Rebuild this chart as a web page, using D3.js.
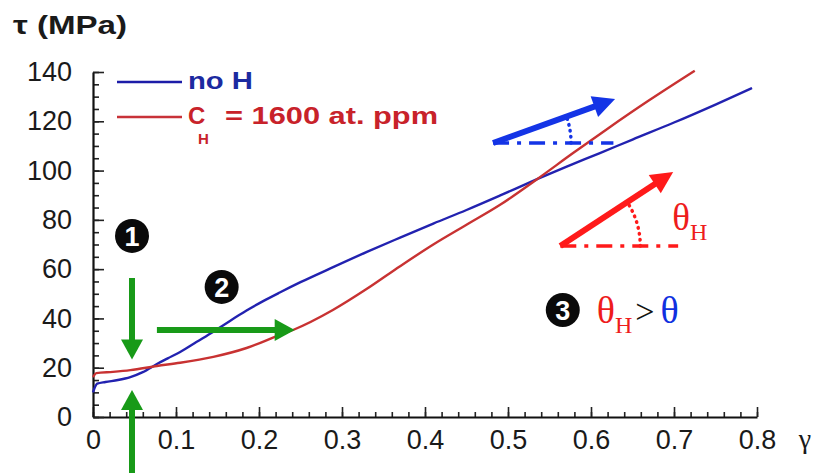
<!DOCTYPE html>
<meta charset="utf-8">
<script src="https://d3js.org/d3.v7.min.js"></script>
<style>
  body { margin: 0; background: #fff; }
  .tick text { font-family: "Liberation Sans", Arial, sans-serif; font-size: 27px; fill: #1a1a1a; }
</style>
<body>
<div id="chart"></div>
<script>
// strain values (gamma) and shear stress (MPa)
var gammaNoH = [0, 0.005, 0.015, 0.03, 0.045, 0.06, 0.077, 0.09, 0.105, 0.125, 0.145, 0.165, 0.185, 0.205,
                0.225, 0.25, 0.286, 0.33, 0.37, 0.41, 0.45, 0.49, 0.535, 0.57, 0.61, 0.65, 0.7, 0.75, 0.794];
var tauNoH   = [10, 13.5, 14.2, 15, 16.2, 18.2, 21.5, 23.8, 26.4, 30.5, 34.6, 39, 43.2, 47,
                50.5, 54.7, 60.3, 67, 72.8, 78.5, 84, 89.8, 96.5, 101.5, 107, 112.6, 119.5, 126.8, 133.5];

var gammaH = [0, 0.004, 0.024, 0.045, 0.077, 0.105, 0.145, 0.185, 0.225, 0.241, 0.289, 0.33, 0.37,
              0.41, 0.45, 0.49, 0.535, 0.578, 0.62, 0.67, 0.725];
var tauH   = [16.2, 17.8, 18.3, 19, 20.7, 22, 24.4, 28, 33.3, 35.3, 43.4, 52, 61.2,
              70, 78, 86, 96.5, 107, 117, 128.5, 140.5];

var xTicks = [0, 0.1, 0.2, 0.3, 0.4, 0.5, 0.6, 0.7, 0.8];
var xTickLabels = ["0", "0.1", "0.2", "0.3", "0.4", "0.5", "0.6", "0.7", "0.8"];
var yTicks = [0, 20, 40, 60, 80, 100, 120, 140];

// annotation anchors, in data units (gamma, tau)
var markers = [{n: "1", g: 0.047, t: 73.5}, {n: "2", g: 0.155, t: 52.8}, {n: "3", g: 0.566, t: 43.4}];
var greenArrows = [
  {from: [0.047, 56.4], to: [0.047, 23.3]},
  {from: [0.047, -23], to: [0.047, 11]},
  {from: [0.077, 35.3], to: [0.243, 35.3]}
];
var slopeNoH = {from: [0.482, 111.2], to: [0.629, 129], baseEnd: 0.627};
var slopeH   = {from: [0.563, 69.4], to: [0.699, 99.4], baseEnd: 0.705};

var W = 821, H = 473;
var svg = d3.select("#chart").append("svg")
    .attr("width", W).attr("height", H)
    .style("background", "#fff");

var x = d3.scaleLinear().domain([0, 0.8]).range([93, 757]);
var y = d3.scaleLinear().domain([0, 140]).range([417, 72]);

// minor ticks
svg.append("g")
    .attr("transform", "translate(0,417)")
    .call(d3.axisBottom(x).tickValues(d3.range(0, 0.801, 0.02)).tickSize(-5).tickSizeOuter(0).tickFormat(""))
    .call(function(g) { g.select(".domain").remove(); });
svg.append("g")
    .attr("transform", "translate(93,0)")
    .call(d3.axisLeft(y).tickValues(d3.range(0, 140.1, 5)).tickSize(-6).tickSizeOuter(0).tickFormat(""))
    .call(function(g) { g.select(".domain").remove(); });

// major axes
svg.append("g")
    .attr("transform", "translate(0,417)")
    .call(d3.axisBottom(x).tickValues(xTicks).tickSize(-10).tickSizeOuter(0).tickPadding(13)
      .tickFormat(function(d, i) { return xTickLabels[i]; }));
svg.append("g")
    .attr("transform", "translate(93,0)")
    .call(d3.axisLeft(y).tickValues(yTicks).tickSize(-11).tickSizeOuter(0).tickPadding(21));
svg.selectAll(".domain").attr("stroke", "#111").attr("stroke-width", 2.2);
svg.selectAll(".tick line").attr("stroke", "#222").attr("stroke-width", 1.6);

// axis titles
svg.append("text").attr("x", 13).attr("y", 34)
    .attr("textLength", 114).attr("lengthAdjust", "spacingAndGlyphs")
    .style("font-family", "Liberation Sans, Arial, sans-serif").style("font-weight", "bold")
    .style("font-size", "25px").attr("fill", "#1a1a1a")
    .text("τ (MPa)");
svg.append("text").attr("x", 805).attr("y", 448).attr("text-anchor", "middle")
    .style("font-family", "Liberation Serif, Times New Roman, serif")
    .style("font-size", "28px").attr("fill", "#1a1a1a")
    .text("γ");

// curves
var line = d3.line().x(function(d) { return x(d[0]); }).y(function(d) { return y(d[1]); })
    .curve(d3.curveMonotoneX);
svg.append("path").datum(d3.zip(gammaNoH, tauNoH))
    .attr("d", line).attr("fill", "none").attr("stroke", "#2222b0").attr("stroke-width", 2.4);
svg.append("path").datum(d3.zip(gammaH, tauH))
    .attr("d", line).attr("fill", "none").attr("stroke", "#c83232").attr("stroke-width", 2.4);

// legend
var lg = svg.append("g").style("font-family", "Liberation Sans, Arial, sans-serif").style("font-weight", "bold");
lg.append("line").attr("x1", 117).attr("x2", 182).attr("y1", 82).attr("y2", 82)
    .attr("stroke", "#1c1ca8").attr("stroke-width", 2.4);
lg.append("text").attr("x", 188).attr("y", 89).attr("fill", "#1c2aa0")
    .style("font-size", "24px").attr("textLength", 65).attr("lengthAdjust", "spacingAndGlyphs")
    .text("no H");
lg.append("line").attr("x1", 117).attr("x2", 182).attr("y1", 117).attr("y2", 117)
    .attr("stroke", "#c83238").attr("stroke-width", 2.4);
lg.append("text").attr("x", 188).attr("y", 124).attr("fill", "#c8222a")
    .style("font-size", "24px").text("C");
lg.append("text").attr("x", 198).attr("y", 144).attr("fill", "#c8222a")
    .style("font-size", "15px").text("H");
lg.append("text").attr("x", 225).attr("y", 124).attr("fill", "#c8222a")
    .style("font-size", "24px").attr("textLength", 213).attr("lengthAdjust", "spacingAndGlyphs")
    .text("= 1600 at. ppm");

// arrow helper: shaft plus triangular head, in pixels
function arrow(g, p0, p1, color, width, headLen, headHalf) {
  var dx = p1[0] - p0[0], dy = p1[1] - p0[1], len = Math.sqrt(dx * dx + dy * dy);
  var ux = dx / len, uy = dy / len;
  var bx = p1[0] - ux * headLen, by = p1[1] - uy * headLen;
  g.append("line").attr("x1", p0[0]).attr("y1", p0[1]).attr("x2", bx + ux * 2).attr("y2", by + uy * 2)
      .attr("stroke", color).attr("stroke-width", width);
  g.append("path")
      .attr("d", "M" + p1[0] + "," + p1[1] +
                 "L" + (bx - uy * headHalf) + "," + (by + ux * headHalf) +
                 "L" + (bx + uy * headHalf) + "," + (by - ux * headHalf) + "Z")
      .attr("fill", color);
}

var ann = svg.append("g");
greenArrows.forEach(function(a) {
  arrow(ann, [x(a.from[0]), y(a.from[1])], [x(a.to[0]), y(a.to[1])], "#189a18", 6, 20, 11);
});

// numbered black discs
markers.forEach(function(m) {
  ann.append("circle").attr("cx", x(m.g)).attr("cy", y(m.t)).attr("r", 17).attr("fill", "#0a0a0a");
  ann.append("text").attr("x", x(m.g)).attr("y", y(m.t) + 10).attr("text-anchor", "middle")
      .style("font-family", "Liberation Sans, Arial, sans-serif").style("font-weight", "bold")
      .style("font-size", "27px").attr("fill", "#fff").text(m.n);
});

// slope sketches
function slope(s, color, radius) {
  var p0 = [x(s.from[0]), y(s.from[1])], p1 = [x(s.to[0]), y(s.to[1])];
  ann.append("line").attr("x1", p0[0]).attr("y1", p0[1]).attr("x2", x(s.baseEnd)).attr("y2", p0[1])
      .attr("stroke", color).attr("stroke-width", 3.5).attr("stroke-dasharray", "16,8,4,8");
  var ang = Math.atan2(p0[1] - p1[1], p1[0] - p0[0]);
  ann.append("path")
      .attr("d", "M" + (p0[0] + radius) + "," + p0[1] +
                 "A" + radius + "," + radius + " 0 0 0 " +
                 (p0[0] + radius * Math.cos(ang)) + "," + (p0[1] - radius * Math.sin(ang)))
      .attr("fill", "none").attr("stroke", color).attr("stroke-width", 3.5)
      .attr("stroke-dasharray", "0.5,5.5").attr("stroke-linecap", "round");
  arrow(ann, p0, p1, color, 6, 22, 11);
}
slope(slopeNoH, "#1434e6", 78);
slope(slopeH, "#ff1a1a", 80);

var serif = "Liberation Serif, Times New Roman, serif";
var tH = ann.append("text").attr("x", x(slopeH.to[0]) - 1).attr("y", y(slopeH.to[1]) + 58)
    .style("font-family", serif).attr("fill", "#ee1c1c");
tH.append("tspan").style("font-size", "37px").text("θ");
tH.append("tspan").attr("dy", 10).style("font-size", "24px").text("H");

var cmp = ann.append("text").attr("x", x(markers[2].g) + 34).attr("y", y(markers[2].t) + 13)
    .style("font-family", serif);
cmp.append("tspan").attr("fill", "#ee1c1c").style("font-size", "38px").text("θ");
cmp.append("tspan").attr("fill", "#ee1c1c").attr("dy", 10).style("font-size", "24px").text("H");
cmp.append("tspan").attr("fill", "#111").attr("dy", -10).attr("dx", 3).style("font-size", "34px").text(">");
cmp.append("tspan").attr("fill", "#1030e0").attr("dx", 6).style("font-size", "38px").text("θ");
</script>
</body>
